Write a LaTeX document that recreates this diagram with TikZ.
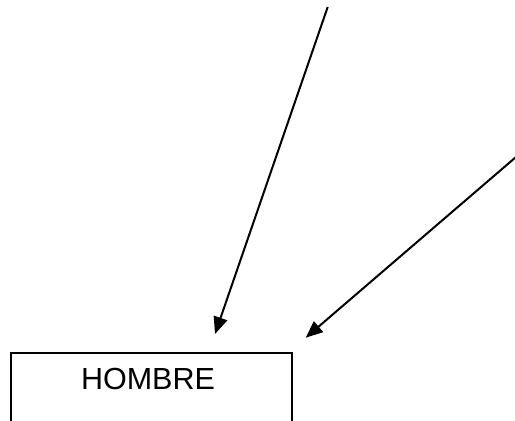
\documentclass[tikz,border=0pt]{standalone}
\usepackage{fontspec}
\setmainfont{Liberation Sans}
\usetikzlibrary{arrows.meta, positioning}

\begin{document}
\begin{tikzpicture}[
    x=1pt, y=-1pt,
    box/.style={rectangle, draw, line width=2pt, minimum width=280.5pt, minimum height=140pt, inner sep=0pt},
    label/.style={font=\fontsize{30.5}{36}\selectfont},
    pointer/.style={line width=2pt, -{Triangle[length=17pt, width=14pt]}}
]
\useasboundingbox (0,0) rectangle (515,421);
\clip (0,0) rectangle (515,421);
\node[box, anchor=north west] (hombre) at (10,351.5) {};
\node[label] (texto) at (148,379) {HOMBRE};
\coordinate (arriba) at (327.7,7);
\coordinate (derecha) at (516,157);
\coordinate (punta1) at (215,334);
\coordinate (punta2) at (305.7,337.7);
\draw[pointer] (arriba) -- (punta1);
\draw[pointer] (derecha) -- (punta2);
\end{tikzpicture}
\end{document}
